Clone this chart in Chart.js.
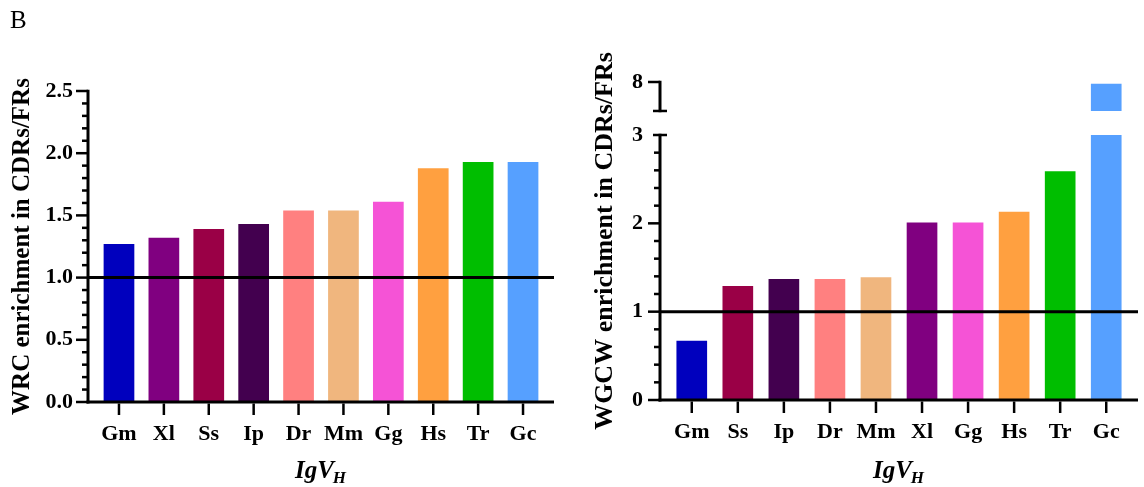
<!DOCTYPE html>
<html>
<head>
<meta charset="utf-8">
<script src="https://cdn.jsdelivr.net/npm/chart.js@4.4.1/dist/chart.umd.min.js"></script>
<style>
  html, body { margin: 0; padding: 0; background: #fff; }
  #wrap { position: relative; width: 1144px; height: 487px; overflow: hidden; background: #fff; }
  canvas { position: absolute; top: 0; }
  #wrc { left: 0; }
  #wgcw { left: 572px; }
</style>
</head>
<body>
<div id="wrap">
  <canvas id="wrc" width="572" height="487"></canvas>
  <canvas id="wgcw" width="572" height="487"></canvas>
</div>
<script>
// ---- data ----
const wrcSpecies = ['Gm', 'Xl', 'Ss', 'Ip', 'Dr', 'Mm', 'Gg', 'Hs', 'Tr', 'Gc'];
const wrcEnrichment = [1.27, 1.32, 1.39, 1.43, 1.54, 1.54, 1.61, 1.88, 1.93, 1.93];
const wrcTickValues = [0, 0.5, 1.0, 1.5, 2.0, 2.5];
const wrcTickLabels = ['0.0', '0.5', '1.0', '1.5', '2.0', '2.5'];

const wgcwSpecies = ['Gm', 'Ss', 'Ip', 'Dr', 'Mm', 'Xl', 'Gg', 'Hs', 'Tr', 'Gc'];
const wgcwEnrichment = [0.67, 1.29, 1.37, 1.37, 1.39, 2.01, 2.01, 2.13, 2.59, 7.94];
const wgcwTickValues = [0, 1, 2, 3, 8];
const wgcwTickLabels = ['0', '1', '2', '3', '8'];

// y-axis break of the WGCW panel: lower segment 0–3, upper segment 7–8
const breakLower = [0, 3];
const breakUpper = [7, 8];

const speciesColors = {
  Gm: '#0000BE', Xl: '#800080', Ss: '#9A0046', Ip: '#43004F', Dr: '#FF8080',
  Mm: '#F0B67E', Gg: '#F553D6', Hs: '#FFA040', Tr: '#00BE00', Gc: '#56A0FF'
};

// ---- styling / layout ----
const SERIF = '"Liberation Serif", "Times New Roman", serif';
const GAP_UNITS = 0.272;     // visual gap between the two segments, in lower-axis units
const UPPER_UNIT = 0.328;    // length of one upper-segment unit, in lower-axis units

// piecewise map from data value to the continuous axis coordinate of the broken axis
function brokenAxis(v) {
  if (v <= breakLower[1]) return v;
  const uStart = breakLower[1] + GAP_UNITS;
  return uStart + (Math.max(v, breakUpper[0]) - breakUpper[0]) * UPPER_UNIT;
}
const identity = v => v;

function seg(ctx, x1, y1, x2, y2) {
  ctx.beginPath(); ctx.moveTo(x1, y1); ctx.lineTo(x2, y2); ctx.stroke();
}

// axes, ticks, reference line, axis title and panel letter
const framePlugin = {
  id: 'frame',
  afterDatasetsDraw(chart, args, o) {
    const ctx = chart.ctx;
    const xs = chart.scales.x, ys = chart.scales.y;
    const map = o.map;
    const ax = xs.left, ay = ys.getPixelForValue(map(0));
    ctx.save();
    ctx.strokeStyle = '#000';
    ctx.lineCap = 'butt';

    // reference line at enrichment = 1
    ctx.lineWidth = 3;
    const y1 = ys.getPixelForValue(map(1));
    seg(ctx, ax, y1, xs.right, y1);

    // x axis line
    seg(ctx, ax - 1.5, ay, xs.right, ay);

    // y axis segments
    o.segments.forEach(([lo, hi], i) => {
      const yb = ys.getPixelForValue(map(lo)) + (i === 0 ? 1.5 : 1.25);
      const yt = ys.getPixelForValue(map(hi)) - 1.25;
      seg(ctx, ax, yb, ax, yt);
    });

    // y ticks
    ctx.lineWidth = 2.5;
    o.segments.forEach(([lo, hi], i) => {
      const steps = Math.round((hi - lo) / o.minorStep);
      for (let k = 0; k <= steps; k++) {
        const v = +(lo + k * o.minorStep).toFixed(4);
        const py = ys.getPixelForValue(map(v));
        const isMajor = o.majors.includes(v);
        const isBreakEnd = (o.breakEnds || []).includes(v);
        if (isBreakEnd) {
          seg(ctx, ax - 7, py, ax + 7, py);
        } else if (isMajor) {
          seg(ctx, ax - 12, py, ax, py);
        } else if (!o.majorsOnlyOn || !o.majorsOnlyOn.includes(i)) {
          seg(ctx, ax - 6, py, ax, py);
        }
      }
    });

    // x ticks
    xs.ticks.forEach(t => {
      const px = xs.getPixelForValue(t.value);
      seg(ctx, px, ay + 1.5, px, ay + 13);
    });

    // x-axis title IgV with subscript H
    ctx.fillStyle = '#000';
    ctx.textBaseline = 'alphabetic';
    const mainFont = 'italic bold 25px ' + SERIF;
    const subFont = 'italic bold 17px ' + SERIF;
    ctx.font = mainFont;
    const w1 = ctx.measureText('IgV').width;
    ctx.font = subFont;
    const w2 = ctx.measureText('H').width;
    const cx = (xs.left + xs.right) / 2;
    const sx = cx - (w1 + w2) / 2;
    ctx.font = mainFont;
    ctx.fillText('IgV', sx, 478);
    ctx.font = subFont;
    ctx.fillText('H', sx + w1 - 1, 483);

    if (o.letter) {
      ctx.font = '25px ' + SERIF;
      ctx.fillText(o.letter, 10, 28);
    }
    ctx.restore();
  }
};

function xScale(species, barsHeight) {
  return {
    type: 'linear',
    offset: false,
    min: -0.69,
    max: species.length - 1 + 0.69,
    afterBuildTicks: s => { s.ticks = species.map((_, i) => ({ value: i })); },
    afterFit: s => { s.height = barsHeight; },
    grid: { display: false, drawTicks: false, offset: false },
    border: { display: false },
    ticks: {
      autoSkip: false, maxRotation: 0, minRotation: 0, padding: 19, color: '#000',
      font: { family: SERIF, size: 22, weight: 'bold' },
      callback: (v, i) => species[i]
    }
  };
}

function yScale(min, max, tickPos, tickLabels, title, titleSize, titlePad, labelPad) {
  return {
    type: 'linear',
    min: min, max: max,
    afterBuildTicks: s => { s.ticks = tickPos.map(v => ({ value: v })); },
    afterFit: s => { s.width = 88; },
    grid: { display: false, drawTicks: false },
    border: { display: false },
    ticks: {
      padding: labelPad, color: '#000',
      font: { family: SERIF, size: 22, weight: 'bold' },
      callback: (v, i) => tickLabels[i]
    },
    title: {
      display: true, text: title, color: '#000',
      font: { family: SERIF, size: titleSize, weight: 'bold' },
      padding: { top: titlePad, bottom: 0 }
    }
  };
}

const common = {
  responsive: false,
  animation: false,
  devicePixelRatio: 1,
  events: [],
  plugins: { legend: { display: false }, tooltip: { enabled: false } }
};

// ---- WRC panel ----
new Chart(document.getElementById('wrc'), {
  type: 'bar',
  data: {
    datasets: [{
      data: wrcEnrichment.map((v, i) => ({ x: i, y: v })),
      backgroundColor: wrcSpecies.map(s => speciesColors[s]),
      barPercentage: 0.684, categoryPercentage: 1
    }]
  },
  options: Object.assign({}, common, {
    layout: { padding: { top: 91, right: 18, left: 0, bottom: 0 } },
    scales: {
      x: xScale(wrcSpecies, 85),
      y: yScale(0, 2.5, wrcTickValues, wrcTickLabels, 'WRC enrichment in CDRs/FRs', 25, 8, 15)
    },
    plugins: Object.assign({}, common.plugins, {
      frame: { map: identity, segments: [[0, 2.5]], minorStep: 0.1, majors: wrcTickValues, letter: 'B' }
    })
  }),
  plugins: [framePlugin]
});

// ---- WGCW panel (broken y axis) ----
const wgcwCoords = wgcwTickValues.map(brokenAxis);
new Chart(document.getElementById('wgcw'), {
  type: 'bar',
  data: {
    datasets: [
      {
        // lower segment: bars capped at the top of the 0–3 range
        data: wgcwEnrichment.map((v, i) => ({ x: i, y: Math.min(v, breakLower[1]) })),
        backgroundColor: wgcwSpecies.map(s => speciesColors[s]),
        barPercentage: 0.666, categoryPercentage: 1, grouped: false
      },
      {
        // upper segment: the part of a bar that continues above the break
        data: wgcwEnrichment.map((v, i) => ({ x: i, y: v > breakLower[1] ? [brokenAxis(breakUpper[0]), brokenAxis(v)] : null })),
        backgroundColor: wgcwSpecies.map(s => speciesColors[s]),
        barPercentage: 0.666, categoryPercentage: 1, grouped: false
      }
    ]
  },
  options: Object.assign({}, common, {
    layout: { padding: { top: 82, right: 6, left: 0, bottom: 0 } },
    scales: {
      x: xScale(wgcwSpecies, 87),
      y: yScale(0, brokenAxis(breakUpper[1]), wgcwCoords, wgcwTickLabels, 'WGCW enrichment in CDRs/FRs', 26, 18, 17)
    },
    plugins: Object.assign({}, common.plugins, {
      frame: {
        map: brokenAxis,
        segments: [breakLower, breakUpper],
        minorStep: 0.2,
        majors: wgcwTickValues,
        breakEnds: [breakLower[1], breakUpper[0]],
        majorsOnlyOn: [1]
      }
    })
  }),
  plugins: [framePlugin]
});
</script>
</body>
</html>
